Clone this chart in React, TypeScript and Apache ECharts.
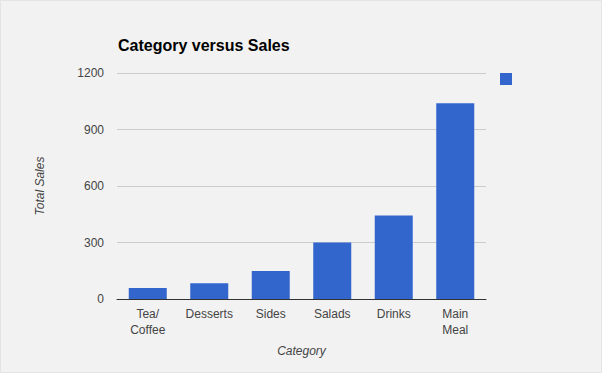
import React, { useEffect, useRef } from "react";
import * as echarts from "echarts";

const categories = ["Tea/\nCoffee", "Desserts", "Sides", "Salads", "Drinks", "Main\nMeal"];
const salesValues = [58, 84, 149, 300, 444, 1040];
const yTicks = { min: 0, max: 1200, interval: 300 };
const seriesName = "Total Sales";

const FONT = "'Liberation Sans', Arial, sans-serif";

export default function App() {
  const ref = useRef<HTMLDivElement>(null);
  useEffect(() => {
    document.body.style.margin = "0";
    const chart = echarts.init(ref.current!, null, { renderer: "svg" });
    chart.setOption({
      animation: false,
      backgroundColor: "#f2f2f2",
      textStyle: { fontFamily: FONT },
      title: {
        text: "Category versus Sales",
        left: 112,
        top: 31,
        textStyle: { fontSize: 16, fontWeight: "bold", color: "#000", fontFamily: FONT },
      },
      legend: {
        left: 494,
        top: 67,
        itemWidth: 12,
        itemHeight: 12,
        icon: "rect",
        formatter: () => "",
        data: [seriesName],
      },
      grid: { left: 116, right: 115, top: 72, bottom: 73, containLabel: false },
      xAxis: {
        type: "category",
        data: categories,
        name: "Category",
        nameLocation: "middle",
        nameGap: 46,
        nameTextStyle: { fontStyle: "italic", fontSize: 12, color: "#444", fontFamily: FONT },
        axisLine: { lineStyle: { color: "#333", width: 1 } },
        axisTick: { show: false },
        axisLabel: { fontSize: 12, color: "#444", lineHeight: 16, margin: 7, interval: 0, fontFamily: FONT },
      },
      yAxis: {
        type: "value",
        min: yTicks.min,
        max: yTicks.max,
        interval: yTicks.interval,
        name: seriesName,
        nameLocation: "middle",
        nameGap: 71,
        nameRotate: 90,
        nameTextStyle: { fontStyle: "italic", fontSize: 12, color: "#444", fontFamily: FONT },
        axisLine: { show: false },
        axisTick: { show: false },
        splitLine: { lineStyle: { color: "#cccccc" } },
        axisLabel: { fontSize: 12, color: "#444", margin: 13, fontFamily: FONT, formatter: (v: number) => String(v) },
      },
      series: [
        {
          name: seriesName,
          type: "bar",
          data: salesValues,
          barWidth: 38,
          itemStyle: { color: "#3366cc" },
        },
      ],
    });
    return () => chart.dispose();
  }, []);
  return (
    <div
      ref={ref}
      style={{ position: "fixed", left: 0, top: 0, width: 602, height: 373, boxSizing: "border-box", border: "1px solid #e4e4e4" }}
    />
  );
}
